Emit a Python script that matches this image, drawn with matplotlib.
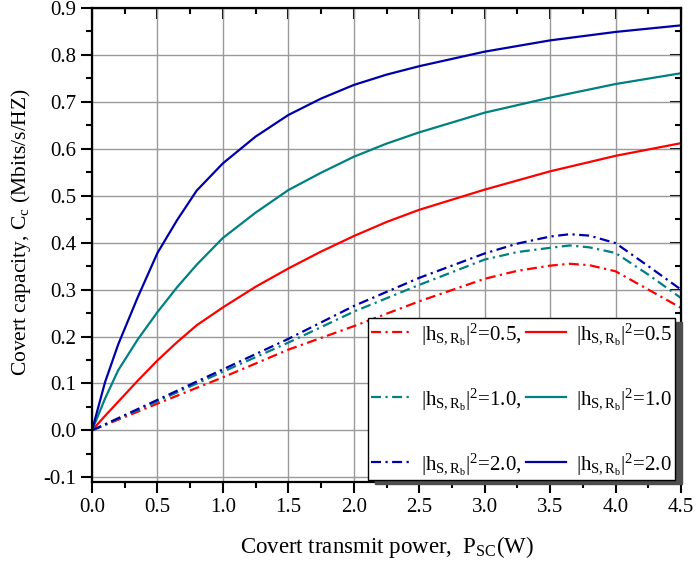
import numpy as np
import matplotlib
matplotlib.use('Agg')
import matplotlib.pyplot as plt
from matplotlib.ticker import MultipleLocator, FormatStrFormatter

plt.rcParams['font.family'] = ['Liberation Serif', 'DejaVu Serif']
plt.rcParams['mathtext.fontset'] = 'custom'
plt.rcParams['mathtext.rm'] = 'Liberation Serif'
plt.rcParams['mathtext.it'] = 'Liberation Serif:italic'
plt.rcParams['axes.unicode_minus'] = False

# solid curves
p_solid = [0, 0.1, 0.2, 0.35, 0.5, 0.65, 0.8, 1.0, 1.25, 1.5, 1.75, 2.0, 2.25, 2.5, 3.0, 3.5, 4.0, 4.5]
c_solid_05 = [0, 0.031, 0.061, 0.106, 0.149, 0.188, 0.224, 0.262, 0.306, 0.345, 0.381, 0.414,
              0.444, 0.470, 0.513, 0.552, 0.585, 0.612]
c_solid_10 = [0, 0.068, 0.128, 0.194, 0.252, 0.305, 0.353, 0.410, 0.464, 0.512, 0.549, 0.583,
              0.611, 0.635, 0.677, 0.709, 0.738, 0.761]
c_solid_20 = [0, 0.103, 0.183, 0.284, 0.378, 0.448, 0.511, 0.569, 0.626, 0.672, 0.707, 0.736,
              0.758, 0.776, 0.807, 0.831, 0.849, 0.863]

# dash-dot curves
p_dd = [0, 0.5, 1.0, 1.5, 2.0, 2.5, 3.0, 3.25, 3.5, 3.65, 3.8, 4.0, 4.25, 4.5]
c_dd_05 = [0, 0.057, 0.113, 0.172, 0.222, 0.275, 0.323, 0.340, 0.351, 0.355, 0.352, 0.339, 0.300, 0.261]
c_dd_10 = [0, 0.062, 0.125, 0.187, 0.253, 0.310, 0.364, 0.380, 0.389, 0.394, 0.390, 0.378, 0.332, 0.282]
c_dd_20 = [0, 0.065, 0.130, 0.195, 0.265, 0.325, 0.377, 0.398, 0.413, 0.418, 0.415, 0.399, 0.350, 0.300]

gains = ['0.5', '1.0', '2.0']
colors = ['#ff0000', '#008080', '#0000a8']

fig = plt.figure(figsize=(6.96, 5.65), dpi=100)
ax = fig.add_axes([92/696, 1-482/565, 589/696, 474/565])

dd = (0, (4.5, 2, 1, 2))
h_dd = []
h_s = []
for g, c, yd, ys in zip(gains, colors, [c_dd_05, c_dd_10, c_dd_20],
                        [c_solid_05, c_solid_10, c_solid_20]):
    l1, = ax.plot(p_dd, yd, color=c, lw=1.6, linestyle=dd,
                  label=r'$|\mathrm{h}_{\mathrm{S,R_b}}|^2$=' + g + ',')
    l2, = ax.plot(p_solid, ys, color=c, lw=1.6,
                  label=r'$|\mathrm{h}_{\mathrm{S,R_b}}|^2$=' + g)
    h_dd.append(l1)
    h_s.append(l2)

ax.set_xlim(0, 4.5)
ax.set_ylim(-0.11, 0.9)
ax.xaxis.set_major_locator(MultipleLocator(0.5))
ax.xaxis.set_minor_locator(MultipleLocator(0.25))
ax.yaxis.set_major_locator(MultipleLocator(0.1))
ax.yaxis.set_minor_locator(MultipleLocator(0.05))
ax.xaxis.set_major_formatter(FormatStrFormatter('%.1f'))
ax.yaxis.set_major_formatter(FormatStrFormatter('%.1f'))
ax.grid(True, which='major', color='0.6', lw=1.0)
ax.tick_params(which='major', direction='out', length=8, width=1.5, labelsize=15)
ax.tick_params(which='minor', direction='out', length=4, width=1.5)
for s in ax.spines.values():
    s.set_linewidth(1.6)

# mirrored axes with inward ticks
top = ax.secondary_xaxis('top')
top.xaxis.set_major_locator(MultipleLocator(0.5))
top.xaxis.set_minor_locator(MultipleLocator(0.25))
top.tick_params(which='major', direction='in', length=8, width=1.5, labeltop=False)
top.tick_params(which='minor', direction='in', length=4, width=1.5)
right = ax.secondary_yaxis('right')
right.yaxis.set_major_locator(MultipleLocator(0.1))
right.yaxis.set_minor_locator(MultipleLocator(0.05))
right.tick_params(which='major', direction='in', length=8, width=1.5, labelright=False)
right.tick_params(which='minor', direction='in', length=4, width=1.5)

ax.set_xlabel(r'Covert transmit power,  P$_{\mathrm{SC}}$(W)', fontsize=16.5, labelpad=12)
ax.set_ylabel(r'Covert capacity, C$_{\mathrm{c}}$ (Mbits/s/HZ)', fontsize=15.5)
ax.yaxis.set_label_coords(-0.1, 0.527)

leg = ax.legend(handles=h_dd + h_s, ncol=2, loc='lower left',
                bbox_to_anchor=(0.4686, 0.004, 0.5214, 0.353), mode='expand',
                borderaxespad=0, borderpad=0.15, fontsize=15, handlelength=1.9,
                handletextpad=0.5, columnspacing=0.3, labelspacing=1.9, fancybox=False,
                shadow={'color': '0.3', 'alpha': 1, 'ox': 5, 'oy': -3},
                framealpha=1, edgecolor='black')
leg.get_frame().set_linewidth(1.0)

fig.savefig('out.png', dpi=100)
